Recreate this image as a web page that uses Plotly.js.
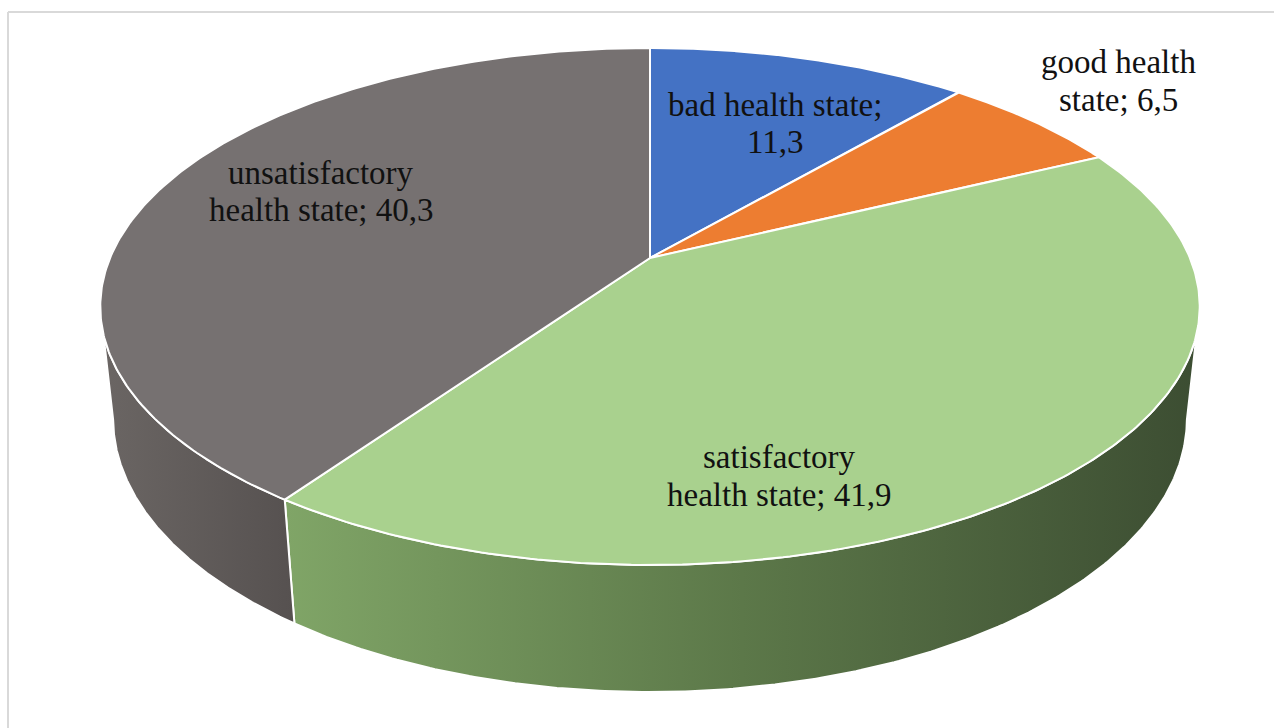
<!DOCTYPE html>
<html>
<head>
<meta charset="utf-8">
<script src="https://cdn.plot.ly/plotly-3.0.1.min.js"></script>
<style>html,body{margin:0;padding:0;background:#fff;}#chart{width:1274px;height:728px;}</style>
</head>
<body>
<div id="chart"></div>
<script>
// ---- data ----
const categories = ['bad health state', 'good health state', 'satisfactory health state', 'unsatisfactory health state'];
const values = [11.3, 6.5, 41.9, 40.3];
const valueLabels = ['11,3', '6,5', '41,9', '40,3'];
const labelBreakAfterWord = [3, 2, 1, 1];

// ---- styles ----
const topColors = ['#4472C4', '#ED7D31', '#A9D18E', '#767171'];
const sideScales = [
  [[0, '#2f5597'], [1, '#203864']],
  [[0, '#c55a11'], [1, '#843c0c']],
  [[0, '#80a567'], [0.5, '#5c7849'], [1, '#3c4d32']],
  [[0, '#6b6664'], [1, '#565150']]
];
// label placement (pixel coords of text centre and baselines)
const labelX = [775, 1118, 779, 321];
const labelBase1 = [115, 72, 467, 183];
const labelBase2 = [152, 110, 505, 220];
const fontSize = 33;

// ---- 3D pie geometry (perspective projection) ----
const W = 1274, H = 728;
const cx = 650, cy = 258;
const R = 0.2115;          // disk radius relative to camera distance
const sinA = 0.4619, cosA = Math.sqrt(1 - sinA * sinA);
const F = 2553;            // focal scale in px
const thick = 0.05;        // disk thickness

function proj(theta, rho, bottom) {
  const X = R * rho * Math.sin(theta);
  const Z = R * rho * Math.cos(theta);
  const Y = bottom ? -thick : 0;
  const depth = 1 - Y * sinA + Z * cosA;
  const up = Y * cosA + Z * sinA;
  return [cx + F * X / depth, cy - F * up / depth];
}

const total = values.reduce((a, b) => a + b, 0);
const angles = [];
let cum = 0;
values.forEach(v => { const a0 = cum / total * 2 * Math.PI; cum += v; angles.push([a0, cum / total * 2 * Math.PI]); });

const rr = R * cosA;
const thR = Math.acos(-rr), thL = 2 * Math.PI - thR;
const N = 240;
const traces = [];

// sides
values.forEach((v, i) => {
  const a0 = Math.max(angles[i][0], thR), a1 = Math.min(angles[i][1], thL);
  if (a1 <= a0) return;
  const xs = [], ys = [];
  for (let k = 0; k <= N; k++) { const t = a0 + (a1 - a0) * k / N; const p = proj(t, 1, false); xs.push(p[0]); ys.push(p[1]); }
  for (let k = N; k >= 0; k--) { const t = a0 + (a1 - a0) * k / N; const p = proj(t, 1, true); xs.push(p[0]); ys.push(p[1]); }
  xs.push(xs[0]); ys.push(ys[0]);
  traces.push({
    type: 'scatter', mode: 'lines', x: xs, y: ys, fill: 'toself',
    fillgradient: { type: 'horizontal', colorscale: sideScales[i] },
    line: { color: '#ffffff', width: 2 }, hoverinfo: 'skip', name: categories[i]
  });
});

// top faces
values.forEach((v, i) => {
  const [a0, a1] = angles[i];
  const c = proj(0, 0, false);
  const xs = [c[0]], ys = [c[1]];
  for (let k = 0; k <= N; k++) { const t = a0 + (a1 - a0) * k / N; const p = proj(t, 1, false); xs.push(p[0]); ys.push(p[1]); }
  xs.push(c[0]); ys.push(c[1]);
  traces.push({
    type: 'scatter', mode: 'lines', x: xs, y: ys, fill: 'toself', fillcolor: topColors[i],
    line: { color: '#ffffff', width: 2 }, hoverinfo: 'skip', name: categories[i]
  });
});

// labels
const annotations = [];
categories.forEach((c, i) => {
  const words = (c + '; ' + valueLabels[i]).split(' ');
  const l1 = words.slice(0, labelBreakAfterWord[i]).join(' ');
  const l2 = words.slice(labelBreakAfterWord[i]).join(' ');
  [[l1, labelBase1[i]], [l2, labelBase2[i]]].forEach(([t, b]) => {
    annotations.push({
      text: t, x: labelX[i], y: b - 0.3 * fontSize, xref: 'x', yref: 'y',
      xanchor: 'center', yanchor: 'middle', showarrow: false,
      font: { family: 'Liberation Serif, Times New Roman, serif', size: fontSize, color: '#111111' }
    });
  });
});

const layout = {
  width: W, height: H,
  margin: { l: 0, r: 0, t: 0, b: 0, pad: 0 },
  paper_bgcolor: '#ffffff', plot_bgcolor: '#ffffff',
  showlegend: false,
  xaxis: { range: [0, W], visible: false, fixedrange: true },
  yaxis: { range: [H, 0], visible: false, fixedrange: true },
  annotations: annotations,
  shapes: [
    { type: 'line', xref: 'paper', yref: 'paper', x0: 8 / W, x1: 1, y0: 1 - 12 / H, y1: 1 - 12 / H, line: { color: '#d9d9d9', width: 2 } },
    { type: 'line', xref: 'paper', yref: 'paper', x0: 8 / W, x1: 8 / W, y0: 0, y1: 1 - 12 / H, line: { color: '#d9d9d9', width: 2 } }
  ]
};

Plotly.newPlot('chart', traces, layout, { staticPlot: true, displayModeBar: false });
</script>
</body>
</html>
